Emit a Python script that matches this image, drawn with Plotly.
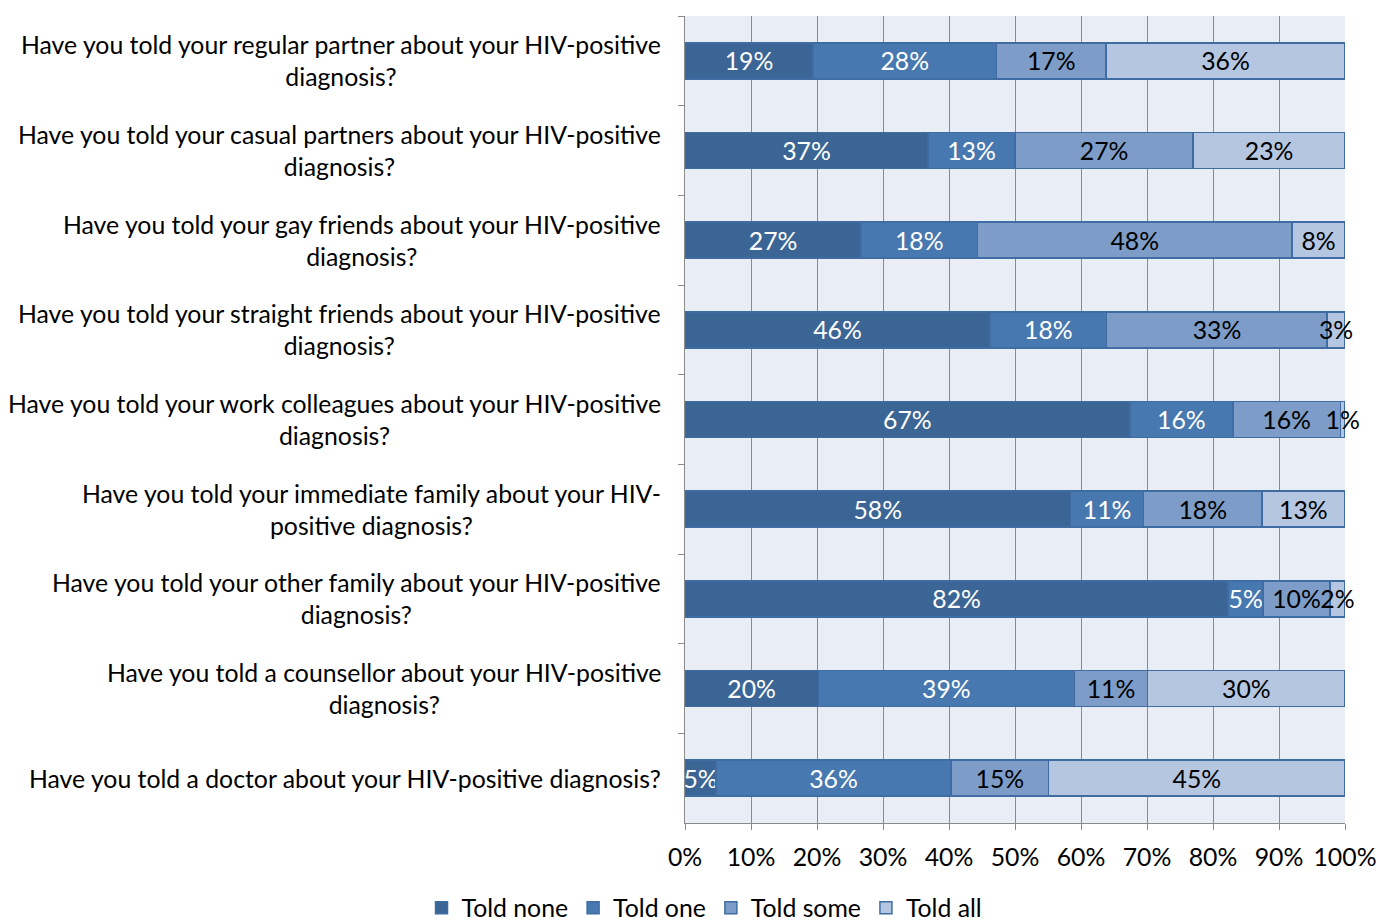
import plotly.graph_objects as go

questions = [
    "Have you told your regular partner about your HIV-positive<br>diagnosis?",
    "Have you told your casual partners about your HIV-positive<br>diagnosis?",
    "Have you told your gay friends about your HIV-positive<br>diagnosis?",
    "Have you told your straight friends about your HIV-positive<br>diagnosis?",
    "Have you told your work colleagues about your HIV-positive<br>diagnosis?",
    "Have you told your immediate family about your HIV-<br>positive diagnosis?",
    "Have you told your other family about your HIV-positive<br>diagnosis?",
    "Have you told a counsellor about your HIV-positive<br>diagnosis?",
    "Have you told a doctor about your HIV-positive diagnosis?",
]

told_none = [19.4, 36.8, 26.7, 46.2, 67.4, 58.4, 82.3, 20.2, 4.7]
told_one = [27.8, 13.2, 17.6, 17.7, 15.6, 11.1, 5.3, 38.8, 35.6]
told_some = [16.6, 27.0, 47.7, 33.4, 16.3, 17.9, 10.1, 11.1, 14.8]
told_all = [36.2, 23.0, 8.0, 2.69, 0.7, 12.6, 2.3, 29.9, 44.9]

series_names = ["Told none", "Told one", "Told some", "Told all"]
series_values = [told_none, told_one, told_some, told_all]
series_colors = ["#3b6595", "#4878b0", "#7d9cc8", "#b5c6e0"]
label_colors = ["white", "white", "black", "black"]

x_ticks = [0, 10, 20, 30, 40, 50, 60, 70, 80, 90, 100]
x_tick_labels = [f"{t}%" for t in x_ticks]

FONT = "Lato"
FS = 24.8

fig = go.Figure()
for name, vals, col, lc in zip(series_names, series_values, series_colors, label_colors):
    fig.add_trace(go.Bar(
        y=questions, x=vals, name=name, orientation="h",
        marker=dict(color=col, line=dict(color="#3f6da3", width=1.5)),
        text=[f"{round(v)}%" for v in vals],
        textposition="inside", insidetextanchor="middle",
        constraintext="none", textangle=0,
        textfont=dict(color=lc, size=FS, family=FONT),
        cliponaxis=False,
    ))

for q in questions:
    fig.add_annotation(
        x=0, xref="paper", y=q, yref="y", text=q, showarrow=False,
        xanchor="right", yanchor="middle", align="center", xshift=-22,
        font=dict(size=FS, family=FONT, color="black"),
    )

fig.update_layout(
    width=1376, height=921,
    margin=dict(l=685, r=31, t=16, b=98, autoexpand=False),
    barmode="stack", bargap=0.6,
    plot_bgcolor="#e9edf5", paper_bgcolor="white",
    font=dict(family=FONT, size=FS, color="black"),
    showlegend=True,
    legend=dict(
        orientation="h", xref="container", yref="container",
        x=0.512, xanchor="center", y=0.014, yanchor="middle",
        font=dict(size=FS, family=FONT, color="black"),
        itemwidth=30, traceorder="normal",
    ),
    xaxis=dict(
        range=[0, 100], tickvals=x_ticks, ticktext=x_tick_labels,
        showgrid=True, gridcolor="#8a8a8a", gridwidth=1,
        showline=True, linecolor="#8a8a8a", linewidth=1,
        ticks="outside", ticklen=6, tickcolor="#8a8a8a",
        zeroline=False, automargin=False,
        ticklabeloverflow="allow", ticklabelstandoff=6,
        tickfont=dict(size=FS, family=FONT, color="black"),
    ),
    yaxis=dict(
        type="category", categoryorder="array", categoryarray=questions,
        autorange="reversed", showticklabels=False, automargin=False,
        ticks="outside", tickson="boundaries", ticklen=6, tickcolor="#8a8a8a",
        showline=True, linecolor="#8a8a8a", linewidth=1,
        showgrid=False, zeroline=False,
    ),
)

fig.write_html(
    "out.html",
    config={"displayModeBar": False},
    post_script="document.body.style.margin='0';document.body.style.overflow='hidden';",
)
